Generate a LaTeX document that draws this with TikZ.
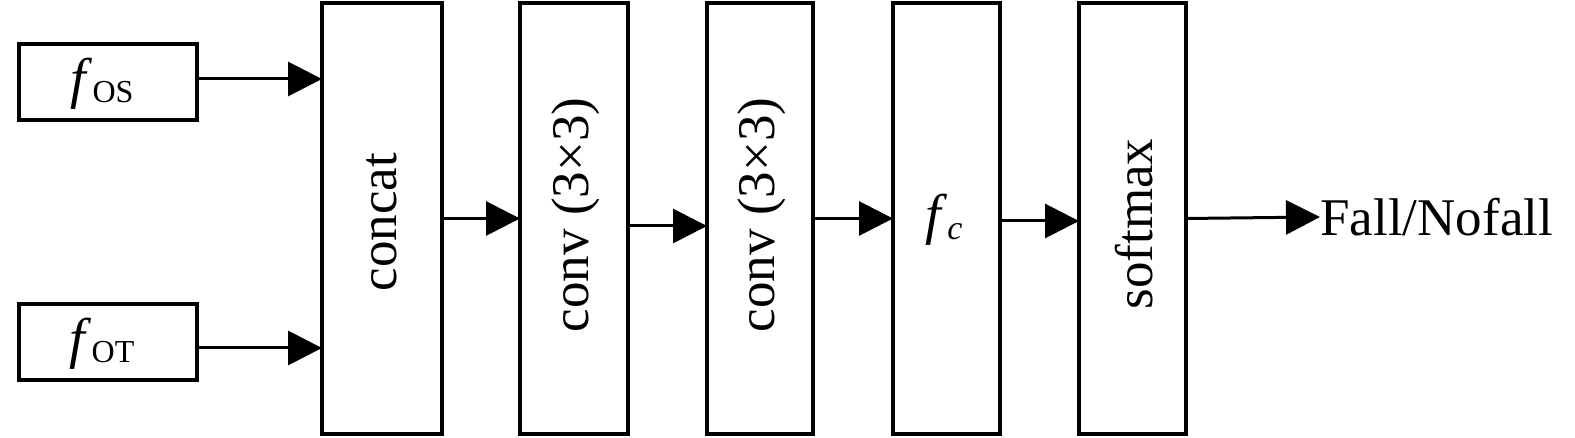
\documentclass[tikz,border=0pt]{standalone}
\usepackage{fontspec}
\setmainfont{Liberation Serif}
\usetikzlibrary{arrows.meta}
\begin{document}
\begin{tikzpicture}[x=0.5pt,y=-0.5pt,
  box/.style={draw, line width=2pt, inner sep=0pt, outer sep=0pt},
  tall/.style={box, minimum height=215.5pt},
  lbl/.style={font=\fontsize{26.5}{30}\selectfont},
  arr/.style={line width=1.5pt, -{Triangle[length=17pt,width=17pt]}}]
\useasboundingbox (0,0) rectangle (1575,438);
\newcommand{\subtxt}[1]{{\fontsize{16}{16}\selectfont\raisebox{-0.35ex}{#1}}}
\node[box, minimum width=89pt, minimum height=38pt] (fos) at (108,82) {};
\node[font=\fontsize{28}{30}\selectfont] (fostxt) at (102,84) {\textit{f}\subtxt{OS}};
\node[box, minimum width=89pt, minimum height=38pt] (fot) at (108,342) {};
\node[font=\fontsize{28}{30}\selectfont] (fottxt) at (102,344) {\textit{f}\subtxt{OT}};
\node[tall, minimum width=60pt] (concat) at (382,218.5) {};
\node[rotate=90, lbl] (concattxt) at (382,222) {concat};
\node[tall, minimum width=54pt] (conv1) at (574,218.5) {};
\node[rotate=90, lbl] (conv1txt) at (576,215) {conv (3×3)};
\node[tall, minimum width=53pt] (conv2) at (760,218.5) {};
\node[rotate=90, lbl] (conv2txt) at (762,215) {conv (3×3)};
\node[tall, minimum width=53.5pt] (fc) at (946.5,218.5) {};
\node[font=\fontsize{28}{30}\selectfont] (fctxt) at (944,220) {\textit{f}{\fontsize{17}{17}\selectfont\raisebox{-0.35ex}{\textit{c}}}};
\node[tall, minimum width=53.5pt] (softmax) at (1132.5,218.5) {};
\node[rotate=90, lbl] (softmaxtxt) at (1134,224) {softmax};
\node[anchor=west, inner sep=0pt, lbl] (out) at (1320,217) {Fall/Nofall};
\coordinate (a1) at ([yshift=1.5pt]fos.east);
\coordinate (a2) at ([yshift=-3pt]fot.east);
\coordinate (a3) at ([yshift=-3.75pt]conv1.east);
\coordinate (a4) at ([yshift=-1.25pt]fc.east);
\draw[arr] (a1) -- (concat.west |- a1);
\draw[arr] (a2) -- (concat.west |- a2);
\draw[arr] (concat.east) -- (conv1.west);
\draw[arr] (a3) -- (conv2.west |- a3);
\draw[arr] (conv2.east) -- (fc.west);
\draw[arr] (a4) -- (softmax.west |- a4);
\draw[arr] (softmax.east) -- (out.west);
\end{tikzpicture}
\end{document}
